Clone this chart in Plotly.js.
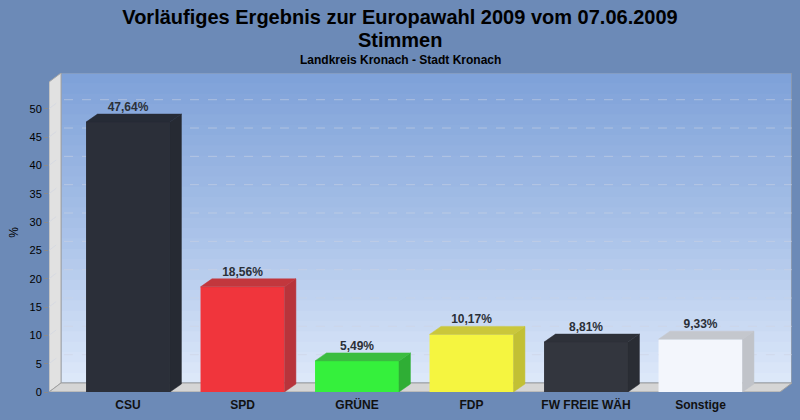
<!DOCTYPE html>
<html>
<head>
<meta charset="utf-8">
<script src="https://cdn.plot.ly/plotly-3.0.1.min.js"></script>
<style>
html,body{margin:0;padding:0;background:#6c8ab7;}
#chart{width:800px;height:420px;}
</style>
</head>
<body>
<div id="chart"></div>
<script>
// ---- data ----
const categories = ["CSU", "SPD", "GRÜNE", "FDP", "FW FREIE WÄH", "Sonstige"];
const values = [47.64, 18.56, 5.49, 10.17, 8.81, 9.33];
const valueLabels = ["47,64%", "18,56%", "5,49%", "10,17%", "8,81%", "9,33%"];
const yTicks = [0, 5, 10, 15, 20, 25, 30, 35, 40, 45, 50];
const titleLine1 = "Vorläufiges Ergebnis zur Europawahl 2009 vom 07.06.2009";
const titleLine2 = "Stimmen";
const subtitle = "Landkreis Kronach - Stadt Kronach";

// ---- style ----
const frontColors = ["#2b2f39", "#f0353c", "#35f03c", "#f5f540", "#33363e", "#f3f6fc"];
const sideColors  = ["#262a33", "#b8343b", "#2fae35", "#c2c034", "#2a2d34", "#c0c3c9"];
const topColors   = ["#262b36", "#c2373d", "#3bbd40", "#cac73b", "#2e3139", "#c4c7cd"];
const FONT = "Liberation Sans, Arial, sans-serif";

const X0 = -0.69, X1 = 5.799, Y1 = 56.3;
const WDX = 0.1048, WDY = 1.59;   // wall depth
const BDX = 0.1, BDY = 1.41;      // bar depth
const BW = 0.733;                 // bar width
const CENTER_SHIFT = -20.5;       // page centre relative to plot centre, px

const shapes = [];
// back wall gradient bands
const N = 30;
const cTop = [126, 161, 216], cMid = [168, 193, 232], cBot = [222, 233, 250];
function lerp(a, b, t){ return a.map((v,i)=>Math.round(v+(b[i]-v)*t)); }
for (let k = 0; k < N; k++) {
  const t0 = k / N, t1 = (k + 1) / N;
  const y0 = WDY + (Y1 - WDY) * t0, y1 = WDY + (Y1 - WDY) * t1;
  const tm = (t0 + t1) / 2;
  const c = tm < 0.5 ? lerp(cBot, cMid, tm / 0.5) : lerp(cMid, cTop, (tm - 0.5) / 0.5);
  const col = `rgb(${c[0]},${c[1]},${c[2]})`;
  shapes.push({type:"rect", xref:"x", yref:"y", layer:"below", x0:X0+WDX, x1:X1, y0:y0, y1:Math.min(y1 + 0.8, Y1),
    fillcolor:col, line:{width:0, color:col}});
}
// back wall border
shapes.push({type:"rect", xref:"x", yref:"y", layer:"below", x0:X0+WDX, x1:X1-0.004, y0:WDY, y1:Y1,
  fillcolor:"rgba(0,0,0,0)", line:{color:"#8a98ae", width:1}});
// left wall
shapes.push({type:"path", xref:"x", yref:"y", layer:"below",
  path:`M ${X0} 0 L ${X0+WDX} ${WDY} L ${X0+WDX} ${Y1} L ${X0} ${Y1-WDY} Z`,
  fillcolor:"#e1e1e1", line:{color:"#a6a6a6", width:1}});
// floor
shapes.push({type:"path", xref:"x", yref:"y", layer:"below",
  path:`M ${X0} 0 L ${X0+WDX} ${WDY} L ${X1} ${WDY} L ${X1-WDX} 0 Z`,
  fillcolor:"#d5d5d5", line:{color:"#a0a0a0", width:1}});
// gridlines
yTicks.filter(v => v > 0).forEach(v => {
  shapes.push({type:"path", xref:"x", yref:"y", layer:"below",
    path:`M ${X0} ${v} L ${X0+WDX} ${v+WDY} L ${X1} ${v+WDY}`,
    line:{color:"rgba(205,212,225,0.55)", width:1, dash:"dash"}});
});

const xs = categories.map((c, i) => i);
const traces = [];
// bar fronts
traces.push({type:"bar", x:xs, y:values, width:BW, marker:{color:frontColors, line:{width:0}},
  hoverinfo:"skip", showlegend:false});
// side and top faces
values.forEach((v, i) => {
  const l = i - BW/2, r = i + BW/2;
  traces.push({type:"scatter", mode:"lines", fill:"toself", fillcolor:sideColors[i],
    line:{width:0.5, color:sideColors[i]},
    x:[r, r+BDX, r+BDX, r, r], y:[0, BDY, v+BDY, v, 0], hoverinfo:"skip", showlegend:false});
  traces.push({type:"scatter", mode:"lines", fill:"toself", fillcolor:topColors[i],
    line:{width:0.5, color:topColors[i]},
    x:[l, l+BDX, r+BDX, r, l], y:[v, v+BDY, v+BDY, v, v], hoverinfo:"skip", showlegend:false});
});
// value labels
traces.push({type:"scatter", mode:"text", x:xs, y:values.map(v => v + BDY), text:valueLabels,
  textposition:"top center", textfont:{family:FONT, size:12, color:"#2b3038", weight:"bold"},
  cliponaxis:false, hoverinfo:"skip", showlegend:false});

const layout = {
  width:800, height:420,
  margin:{l:49, r:8, t:73, b:28},
  paper_bgcolor:"#6c8ab7", plot_bgcolor:"rgba(0,0,0,0)",
  title:{text:"<b>" + titleLine1 + "</b>",
    font:{family:FONT, size:20, color:"#000"},
    x:0.5, xanchor:"center", xref:"container", yref:"container", y:1 - 17/420, yanchor:"middle"},
  annotations:[
    {text:"<b>" + titleLine2 + "</b>", xref:"paper", yref:"paper", x:0.5, y:1, xshift:CENTER_SHIFT, yshift:33,
      xanchor:"center", yanchor:"middle", font:{family:FONT, size:20, color:"#000"}, showarrow:false},
    {text:"<b>" + subtitle + "</b>", xref:"paper", yref:"paper", x:0.5, y:1, xshift:CENTER_SHIFT, yshift:13,
      xanchor:"center", yanchor:"middle", font:{family:FONT, size:12, color:"#000"}, showarrow:false}],
  xaxis:{range:[X0, X1], tickvals:xs, ticktext:categories, showgrid:false, zeroline:false, showline:false,
    ticks:"", ticklabelstandoff:4, tickfont:{family:FONT, size:12, color:"#111", weight:"bold"}, fixedrange:true},
  yaxis:{range:[0, Y1], tickvals:yTicks, showgrid:false, zeroline:false, showline:false,
    ticks:"outside", ticklen:4, tickcolor:"#8a8a8a",
    tickfont:{family:FONT, size:11, color:"#000"},
    title:{text:"%", font:{family:FONT, size:12, color:"#000"}, standoff:8},
    fixedrange:true},
  shapes:shapes
};
Plotly.newPlot("chart", traces, layout, {displayModeBar:false, staticPlot:true});
</script>
</body>
</html>
